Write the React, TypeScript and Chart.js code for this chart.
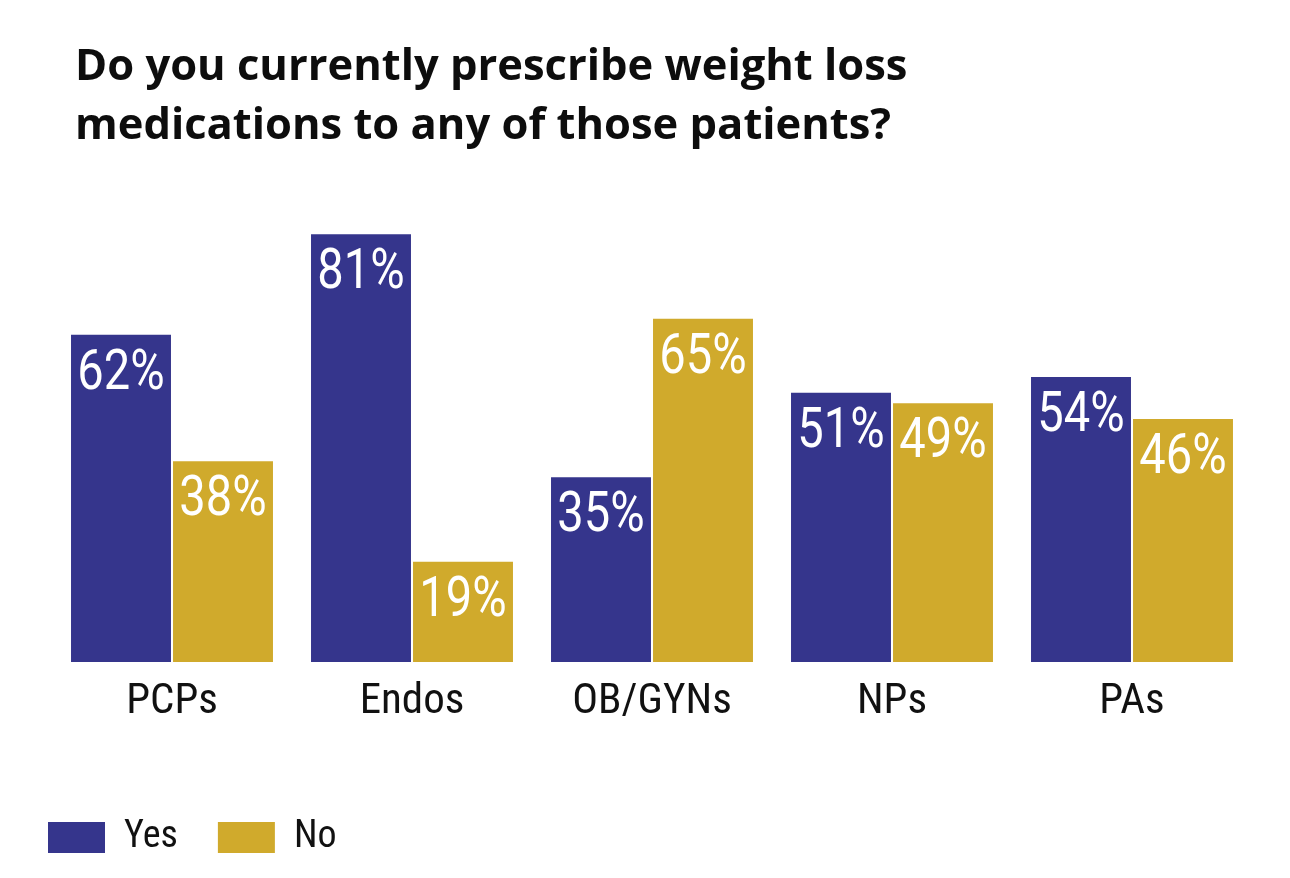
import React, { useEffect, useRef } from "react";
import { Chart, registerables } from "chart.js";

Chart.register(...registerables);

const titleLines = ["Do you currently prescribe weight loss", "medications to any of those patients?"];
const categories = ["PCPs", "Endos", "OB/GYNs", "NPs", "PAs"];
const yesValues = [62, 81, 35, 51, 54];
const noValues = [38, 19, 65, 49, 46];
const seriesNames = ["Yes", "No"];

const BLUE = "#35358c";
const GOLD = "#d0aa2c";
const NARROW = "'Liberation Sans Narrow', 'Roboto Condensed', 'DejaVu Sans Condensed', Roboto, sans-serif";

const titlePlugin = {
  id: "customTitle",
  afterDraw(chart: any) {
    const ctx = chart.ctx;
    ctx.save();
    ctx.fillStyle = "#0d0d0d";
    ctx.font = "700 43.5px 'Open Sans', sans-serif";
    ctx.textAlign = "left";
    ctx.textBaseline = "alphabetic";
    ctx.fillText(titleLines[0], 75, 80);
    ctx.fillText(titleLines[1], 75, 139);
    ctx.restore();
  },
};

const valueLabelPlugin = {
  id: "valueLabels",
  afterDatasetsDraw(chart: any) {
    const ctx = chart.ctx;
    chart.data.datasets.forEach((ds: any, di: number) => {
      const meta = chart.getDatasetMeta(di);
      meta.data.forEach((bar: any, i: number) => {
        ctx.save();
        ctx.fillStyle = "#ffffff";
        ctx.font = "400 56px Roboto, sans-serif";
        ctx.textAlign = "center";
        ctx.textBaseline = "alphabetic";
        ctx.translate(bar.x, bar.y + 54);
        ctx.scale(0.84, 1);
        ctx.fillText(`${ds.data[i]}%`, 0, 0);
        ctx.restore();
      });
    });
  },
};

export default function App() {
  const canvasRef = useRef<HTMLCanvasElement | null>(null);

  useEffect(() => {
    const canvas = canvasRef.current;
    if (!canvas) return;
    const chart = new Chart(canvas, {
      type: "bar",
      data: {
        labels: categories,
        datasets: [
          {
            label: seriesNames[0],
            data: yesValues,
            backgroundColor: BLUE,
            borderWidth: 0,
            categoryPercentage: 0.85,
            barPercentage: 0.98,
          },
          {
            label: seriesNames[1],
            data: noValues,
            backgroundColor: GOLD,
            borderWidth: 0,
            categoryPercentage: 0.85,
            barPercentage: 0.98,
          },
        ],
      },
      options: {
        responsive: true,
        maintainAspectRatio: false,
        animation: false,
        layout: { padding: { top: 134, left: 8, right: 38, bottom: 11.5 } },
        plugins: {
          title: { display: false },
          tooltip: { enabled: false },
          legend: {
            display: true,
            position: "bottom",
            align: "start",
            labels: {
              boxWidth: 57,
              boxHeight: 31,
              padding: 40,
              color: "#111111",
              font: { family: NARROW, size: 38 },
            },
          },
        },
        scales: {
          x: {
            grid: { display: false },
            border: { display: false },
            ticks: {
              color: "#111111",
              padding: 6,
              font: { family: NARROW, size: 43 },
            },
            afterFit: (s: any) => {
              s.height = 116.5;
            },
          },
          y: {
            min: 0,
            max: 100,
            grid: { display: false },
            border: { display: false },
            ticks: { display: false },
            afterFit: (s: any) => {
              s.width = 44;
            },
          },
        },
      },
      plugins: [titlePlugin, valueLabelPlugin],
    });
    return () => chart.destroy();
  }, []);

  return (
    <div style={{ position: "fixed", left: 0, top: 0, width: 1290, height: 878, background: "#ffffff" }}>
      <canvas ref={canvasRef} />
    </div>
  );
}
